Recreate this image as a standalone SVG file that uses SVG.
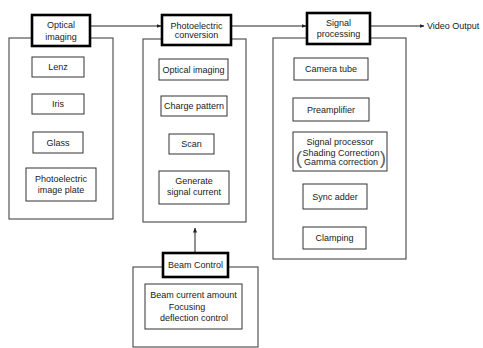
<svg xmlns="http://www.w3.org/2000/svg" width="483" height="348" viewBox="0 0 483 348">
<style>
text{font-family:"Liberation Sans",Arial,sans-serif;font-size:9px;fill:#1a1a1a;text-anchor:middle;dominant-baseline:central}
.panel{fill:none;stroke:#555;stroke-width:1.2}
.head{fill:#fff;stroke:#000;stroke-width:2.6}
.box{fill:#fff;stroke:#333;stroke-width:1}
.conn{stroke:#222;stroke-width:1;fill:none}
.paren{font-size:19px;fill:#666}
</style>
<defs>
<marker id="ah" viewBox="0 0 10 10" refX="9" refY="5" markerWidth="5" markerHeight="5" orient="auto">
<path d="M0,1 L10,5 L0,9 z" fill="#222"/>
</marker>
</defs>
<rect width="483" height="348" fill="#fff"/>

<g id="connectors">
<line class="conn" x1="90" y1="26" x2="161" y2="26" marker-end="url(#ah)"/>
<line class="conn" x1="231" y1="26" x2="306" y2="26" marker-end="url(#ah)"/>
<line class="conn" x1="370" y1="26" x2="424" y2="26" marker-end="url(#ah)"/>
<line class="conn" x1="195" y1="253" x2="195" y2="228" marker-end="url(#ah)"/>
</g>

<g id="optical-imaging">
<rect class="panel" x="9" y="38" width="104" height="181"/>
<rect class="head" x="32" y="15" width="58" height="31"/>
<text x="61" y="25">Optical</text>
<text x="61" y="37">imaging</text>
<g id="lenz"><rect class="box" x="32" y="57" width="52" height="20"/><text x="58" y="67">Lenz</text></g>
<g id="iris"><rect class="box" x="32" y="94" width="52" height="20"/><text x="58" y="104">Iris</text></g>
<g id="glass"><rect class="box" x="33" y="132" width="50" height="21"/><text x="58" y="142.5">Glass</text></g>
<g id="image-plate"><rect class="box" x="26" y="168" width="70" height="33"/><text x="61" y="179">Photoelectric</text><text x="61" y="190">image plate</text></g>
</g>

<g id="photoelectric-conversion">
<rect class="panel" x="143" y="39" width="103" height="183"/>
<rect class="head" x="162" y="15" width="69" height="30"/>
<text x="196.5" y="25.5">Photoelectric</text>
<text x="196.5" y="35">conversion</text>
<g id="pc-optical"><rect class="box" x="159" y="59" width="69" height="21"/><text x="193.5" y="69.5">Optical imaging</text></g>
<g id="charge"><rect class="box" x="161" y="96" width="66" height="20"/><text x="194" y="106">Charge pattern</text></g>
<g id="scan"><rect class="box" x="169" y="134" width="45" height="20"/><text x="191.5" y="144">Scan</text></g>
<g id="generate"><rect class="box" x="159" y="171" width="70" height="33"/><text x="194" y="181">Generate</text><text x="194" y="192">signal current</text></g>
</g>

<g id="signal-processing">
<rect class="panel" x="273" y="38" width="133" height="221"/>
<rect class="head" x="307" y="13" width="63" height="31"/>
<text x="338.5" y="23">Signal</text>
<text x="338.5" y="33.5">processing</text>
<g id="camera-tube"><rect class="box" x="294" y="58" width="74" height="22"/><text x="331" y="69">Camera tube</text></g>
<g id="preamp"><rect class="box" x="293" y="98" width="76" height="23"/><text x="331" y="109.5">Preamplifier</text></g>
<g id="signal-processor"><rect class="box" x="293" y="132" width="94" height="39"/>
<text x="340" y="142">Signal processor</text>
<text x="341" y="152.5">Shading Correction</text>
<text x="341" y="162">Gamma correction</text>
<text class="paren" x="299" y="157">(</text>
<text class="paren" x="383" y="157">)</text>
</g>
<g id="sync"><rect class="box" x="303" y="184" width="64" height="25"/><text x="335" y="196.5">Sync adder</text></g>
<g id="clamping"><rect class="box" x="303" y="227" width="63" height="22"/><text x="334.5" y="238">Clamping</text></g>
</g>

<g id="video-output"><text x="427" y="26" style="text-anchor:start">Video Output</text></g>

<g id="beam-control">
<rect class="panel" x="133" y="267" width="125" height="80"/>
<rect class="head" x="163" y="253" width="65" height="24"/>
<text x="195.5" y="265">Beam Control</text>
<g id="beam-detail"><rect class="box" x="145" y="284" width="97" height="45"/>
<text x="193.5" y="295">Beam current amount</text>
<text x="187" y="307">Focusing</text>
<text x="194" y="318">deflection control</text>
</g>
</g>
</svg>
